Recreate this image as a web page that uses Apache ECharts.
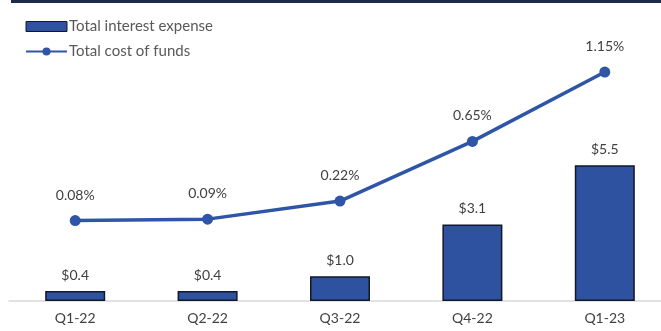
<!DOCTYPE html>
<html><head><meta charset="utf-8">
<script src="https://cdn.jsdelivr.net/npm/echarts@6/dist/echarts.min.js"></script>
<style>html,body{margin:0;padding:0;background:#fff}#c{width:661px;height:331px}</style>
</head><body><div id="c"></div>
<script>
var categories = ['Q1-22','Q2-22','Q3-22','Q4-22','Q1-23'];
var interestExpense = [0.4, 0.4, 1.0, 3.1, 5.5];
var costOfFunds = [0.08, 0.09, 0.22, 0.65, 1.15];
var seriesNames = ['Total interest expense','Total cost of funds'];

var chart = echarts.init(document.getElementById('c'));
var font = 'Lato, "Open Sans", sans-serif';
chart.setOption({
  animation: false,
  backgroundColor: '#fff',
  textStyle: {fontFamily: font},
  graphic: [{type:'rect', left: 11, top: 0, shape:{width: 660, height: 3}, style:{fill:'#1e2b4a'}}],
  legend: {
    orient: 'vertical', left: 20, top: 14, itemWidth: 41, itemHeight: 10, itemGap: 10,
    textStyle: {color: '#595959', fontSize: 15, fontFamily: font, padding: [0,0,0,-3]},
    data: [
      {name: seriesNames[0], icon: 'rect', itemStyle: {borderColor:'#111827', borderWidth:1}},
      {name: seriesNames[1]}
    ]
  },
  grid: {left: 9, top: 54, width: 662, bottom: 30, containLabel: false, outerBoundsMode: 'none'},
  xAxis: {
    type: 'category', data: categories,
    axisLine: {lineStyle: {color: '#d9d9d9', width: 1.5}},
    axisTick: {show: false},
    axisLabel: {color: '#404040', fontSize: 14, margin: 10, fontFamily: font}
  },
  yAxis: [
    {type: 'value', min: 0, max: 10, show: false, splitLine: {show:false}},
    {type: 'value', min: -0.5, max: 1.28, show: false, splitLine: {show:false}}
  ],
  series: [
    {
      name: seriesNames[0], type: 'bar', data: interestExpense, barWidth: 60,
      itemStyle: {color: '#2e52a0', borderColor: '#111827', borderWidth: 1.5},
      label: {show: true, position: 'top', distance: 9, color: '#404040', fontSize: 14, fontFamily: font,
        formatter: function(p){ return '$' + p.value.toFixed(1); }}
    },
    {
      name: seriesNames[1], type: 'line', yAxisIndex: 1, data: costOfFunds,
      symbol: 'circle', symbolSize: 11,
      lineStyle: {color: '#2f55a6', width: 3.5},
      itemStyle: {color: '#2f55a6'},
      label: {show: true, position: 'top', distance: 13, color: '#404040', fontSize: 14, fontFamily: font,
        formatter: function(p){ return p.value.toFixed(2) + '%'; }}
    }
  ]
});
</script></body></html>
